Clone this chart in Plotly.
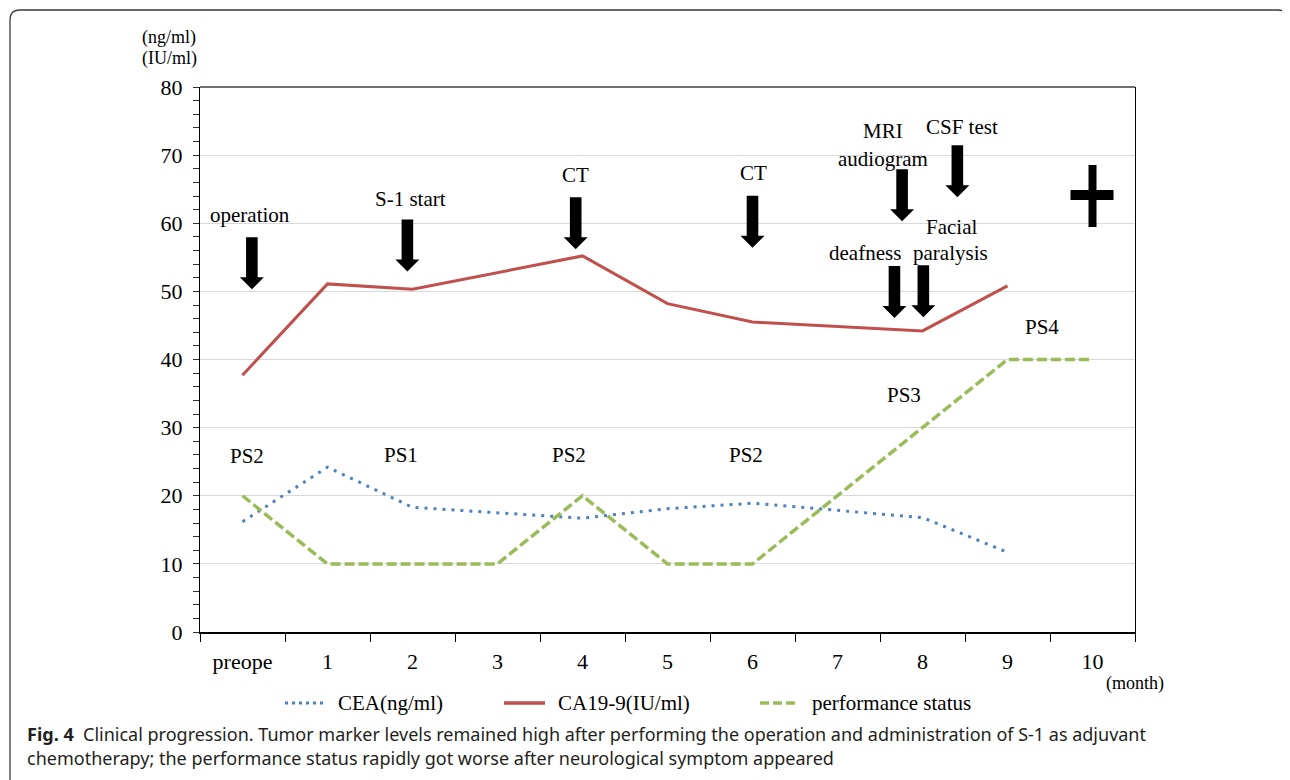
import plotly.graph_objects as go

# ---------------- data ----------------
months = ["preope", "1", "2", "3", "4", "5", "6", "7", "8", "9", "10"]
cea = [16.2, 24.2, 18.3, None, 16.7, 18.1, 18.9, None, 16.8, 11.7, None]
ca199 = [37.7, 51.1, 50.3, None, 55.2, 48.2, 45.5, None, 44.2, 50.8, None]
perf_status = [20, 10, 10, 10, 20, 10, 10, None, 30, 40, 40]

series_names = ["CEA(ng/ml)", "CA19-9(IU/ml)", "performance status"]
series_colors = ["#4F81BD", "#C0504D", "#9BBB59"]

# event arrows: (category index of tip, value at tip)
event_arrows = [(0.11, 50.3), (1.94, 52.9), (3.92, 56.2), (6.0, 56.4),
                (7.76, 60.3), (8.41, 63.8), (7.67, 46.1), (8.01, 46.2)]
# event / PS labels: (text, category index, value)
event_labels = [("operation", 0.09, 61.2), ("S-1 start", 1.98, 63.6),
                ("CT", 3.92, 67.1), ("CT", 6.01, 67.4),
                ("MRI", 7.54, 73.5), ("audiogram", 7.53, 69.5),
                ("CSF test", 8.47, 74.1), ("Facial", 8.34, 59.4),
                ("paralysis", 8.33, 55.7), ("deafness", 7.32, 55.6)]
ps_labels = [("PS2", 0.05, 25.9), ("PS1", 1.87, 26.0), ("PS2", 3.84, 26.0),
             ("PS2", 5.92, 26.0), ("PS3", 7.78, 34.8), ("PS4", 9.4, 44.8)]
death_mark = (10.0, 64.0)

caption_bold = "Fig. 4"
caption_l1 = "Clinical progression. Tumor marker levels remained high after performing the operation and administration of S-1 as adjuvant"
caption_l2 = "chemotherapy; the performance status rapidly got worse after neurological symptom appeared"

# ---------------- layout geometry ----------------
OFF = 8                      # page body margin
W, H = 1290 - OFF, 780 - OFF
SL, SR, ST, SB = 200, 1135, 87, 632     # plot area in screen pixels
L, R, T, B = SL - OFF, SR - OFF, ST - OFF, SB - OFF
SERIF = "Liberation Serif, Times New Roman, serif"


def fx(px):
    return (px - SL) / (SR - SL)


def fy(py):
    return (SB - py) / (SB - ST)


def P(x, y):
    # screen pixel -> pixel offset from paper origin (bottom-left), y up
    return f"{x - SL:.1f},{SB - y:.1f}"


def paper_text(text, x, y, size, xanchor="center", family=SERIF, color="black"):
    return dict(text=text, x=fx(x), y=fy(y), xref="paper", yref="paper",
                xanchor=xanchor, yanchor="middle", showarrow=False,
                font=dict(family=family, size=size, color=color))


fig = go.Figure()
fig.add_trace(go.Scatter(x=months, y=cea, mode="lines", connectgaps=True,
                         name=series_names[0], showlegend=False,
                         line=dict(color=series_colors[0], width=3, dash="3px,6px")))
fig.add_trace(go.Scatter(x=months, y=ca199, mode="lines", connectgaps=True,
                         name=series_names[1], showlegend=False,
                         line=dict(color=series_colors[1], width=3)))
fig.add_trace(go.Scatter(x=months, y=perf_status, mode="lines", connectgaps=True,
                         name=series_names[2], showlegend=False,
                         line=dict(color=series_colors[2], width=3.5, dash="10px,4px")))

shapes = []
annotations = []

# block arrows (pixel-sized, anchored at tip)
arrow_path = "M -5.8,52 L 5.8,52 L 5.8,12 L 12,12 L 0,0 L -12,12 L -5.8,12 Z"
for ax_, ay_ in event_arrows:
    shapes.append(dict(type="path", xref="x", yref="y", xsizemode="pixel", ysizemode="pixel",
                       xanchor=ax_, yanchor=ay_, path=arrow_path,
                       fillcolor="black", line=dict(width=0), layer="above"))

# death cross
cx, cy = death_mark
shapes.append(dict(type="path", xref="x", yref="y", xsizemode="pixel", ysizemode="pixel",
                   xanchor=cx, yanchor=cy,
                   path="M -4,31 L 4,31 L 4,-31 L -4,-31 Z",
                   fillcolor="black", line=dict(width=0)))
shapes.append(dict(type="path", xref="x", yref="y", xsizemode="pixel", ysizemode="pixel",
                   xanchor=cx, yanchor=cy,
                   path="M -22,6 L 21,6 L 21,-4 L -22,-4 Z",
                   fillcolor="black", line=dict(width=0)))

for txt, x, y in event_labels + ps_labels:
    annotations.append(dict(text=txt, x=x, y=y, xref="x", yref="y", showarrow=False,
                            xanchor="center", yanchor="middle",
                            font=dict(family=SERIF, size=21, color="black")))

# top border of plot area
shapes.append(dict(type="line", xref="paper", yref="paper", x0=0, x1=1, y0=1, y1=1,
                   line=dict(color="#404040", width=1.5)))

# outer rounded frame
frame = (f"M {P(10, 800)} L {P(10, 20)} Q {P(10, 10)} {P(20, 10)} "
         f"L {P(1278, 10)} Q {P(1288, 10)} {P(1288, 20)} L {P(1288, 800)}")
shapes.append(dict(type="path", xref="paper", yref="paper", xsizemode="pixel", ysizemode="pixel",
                   xanchor=0, yanchor=0, path=frame, line=dict(color="#3a3a3a", width=1.3)))

# axis unit labels
annotations.append(paper_text("(ng/ml)", 169, 37, 18))
annotations.append(paper_text("(IU/ml)", 169, 58, 18))
annotations.append(paper_text("(month)", 1135, 683, 18))

# manual legend
leg_y = 703
leg_items = [(285, 325, 336, "3px,4px", 3), (504, 545, 556, "solid", 3.5), (760, 797, 810, "9px,4px", 3.5)]
for (x0, x1, tx, dash, lw), name, col in zip(leg_items, series_names, series_colors):
    shapes.append(dict(type="line", xref="paper", yref="paper", x0=fx(x0), x1=fx(x1),
                       y0=fy(leg_y), y1=fy(leg_y), line=dict(color=col, width=lw, dash=dash)))
    annotations.append(paper_text(name, tx, leg_y, 21, xanchor="left"))

# caption
annotations.append(paper_text(f"<b>{caption_bold}</b>&nbsp;&nbsp;{caption_l1}", 25, 734, 18,
                              xanchor="left", family="Noto Sans", color="#231F20"))
annotations.append(paper_text(caption_l2, 25, 758, 18,
                              xanchor="left", family="Noto Sans", color="#231F20"))

fig.update_layout(
    width=W, height=H, autosize=False,
    margin=dict(l=L, r=W - R, t=T, b=H - B),
    paper_bgcolor="white", plot_bgcolor="white",
    showlegend=False,
    shapes=shapes, annotations=annotations,
    xaxis=dict(type="category", categoryorder="array", categoryarray=months,
               range=[-0.5, 10.5], tickson="boundaries", ticks="outside", ticklen=8,
               tickcolor="black", tickwidth=1, showgrid=False, showline=True,
               linecolor="black", linewidth=2, zeroline=False,
               tickfont=dict(family=SERIF, size=22, color="black"), ticklabelstandoff=9),
    yaxis=dict(range=[0, 80], dtick=10, tick0=0, ticks="outside", ticklen=6, tickcolor="#333",
               showgrid=True, gridcolor="#d9d9d9", gridwidth=1, showline=True,
               linecolor="black", linewidth=1, mirror=True, zeroline=False,
               minor=dict(dtick=2, ticks="outside", ticklen=6, tickcolor="#333", showgrid=False),
               tickfont=dict(family=SERIF, size=22, color="black"), ticklabelstandoff=6),
)

fig.write_html("out.html")
